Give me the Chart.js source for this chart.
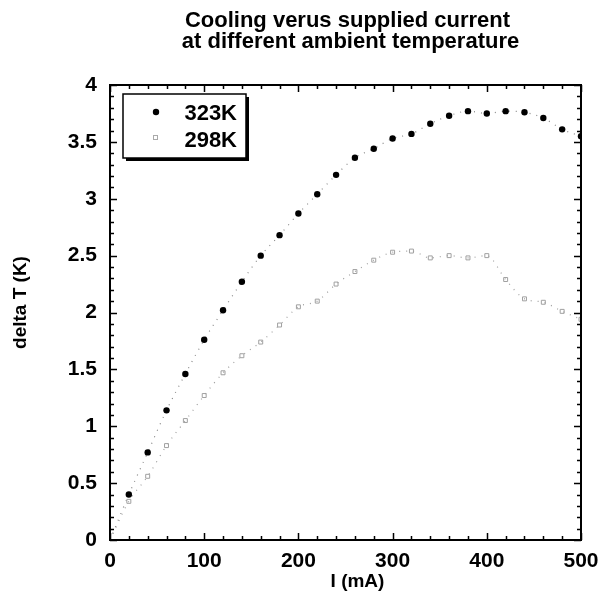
<!DOCTYPE html>
<html lang="en">
<head>
<meta charset="UTF-8">
<title>Cooling verus supplied current</title>
<script src="https://cdn.jsdelivr.net/npm/chart.js"></script>
<style>
    html, body { margin: 0; padding: 0; background: #fff; }
    #wrap { width: 601px; height: 600px; }
</style>
</head>
<body>
<div id="wrap"><canvas id="chart" width="601" height="600"></canvas></div>
<script>
// data
const current = [20, 40, 60, 80, 100, 120, 140, 160, 180, 200, 220, 240, 260, 280, 300, 320, 340, 360, 380, 400, 420, 440, 460, 480, 500];
const dT323 = [0.40, 0.77, 1.14, 1.46, 1.76, 2.02, 2.27, 2.50, 2.68, 2.87, 3.04, 3.21, 3.36, 3.44, 3.53, 3.57, 3.66, 3.73, 3.77, 3.75, 3.77, 3.76, 3.71, 3.61, 3.55];
const dT298 = [0.34, 0.56, 0.83, 1.05, 1.27, 1.47, 1.62, 1.74, 1.89, 2.05, 2.10, 2.25, 2.36, 2.46, 2.53, 2.54, 2.48, 2.50, 2.48, 2.50, 2.29, 2.12, 2.09, 2.01, 1.94];
const seriesNames = ["323K", "298K"];
const titleLines = ["Cooling verus supplied current", "at different ambient temperature"];
const xTitle = "I (mA)";
const yTitle = "delta T (K)";

const FONT = "'Liberation Sans', Arial, sans-serif";

function toPoints(ys) {
    return current.map((x, i) => ({x: x, y: ys[i]}));
}
// dotted trend lines start at the origin
function trend(ys) {
    return [{x: 0, y: 0}].concat(toPoints(ys));
}

// titles, frame, inward ticks on all four sides, boxed legend
const framePlugin = {
    id: "frame",
    afterDraw(chart) {
        const ctx = chart.ctx;
        const a = chart.chartArea;
        const xs = chart.scales.x, ys = chart.scales.y;
        const midX = (a.left + a.right) / 2;
        ctx.save();
        ctx.fillStyle = "#000";

        // chart title
        ctx.font = "bold 22px " + FONT;
        ctx.textAlign = "center";
        ctx.textBaseline = "alphabetic";
        ctx.fillText(titleLines[0], midX + 2, 27);
        ctx.fillText(titleLines[1], midX + 5, 48);

        // axis titles
        ctx.font = "bold 19px " + FONT;
        ctx.fillText(xTitle, midX + 12, 587);
        ctx.save();
        ctx.translate(26, (a.top + a.bottom) / 2 - 10);
        ctx.rotate(-Math.PI / 2);
        ctx.fillText(yTitle, 0, 0);
        ctx.restore();

        // ticks
        ctx.strokeStyle = "#000";
        ctx.lineWidth = 1.5;
        ctx.beginPath();
        for (let v = 0; v <= 500; v += 20) {
            const px = Math.round(xs.getPixelForValue(v)) + 0.5;
            const len = v % 100 === 0 ? 7 : 4;
            ctx.moveTo(px, a.bottom); ctx.lineTo(px, a.bottom - len);
            ctx.moveTo(px, a.top); ctx.lineTo(px, a.top + len);
        }
        for (let k = 0; k <= 40; k++) {
            const py = Math.round(ys.getPixelForValue(k / 10)) + 0.5;
            const len = k % 5 === 0 ? 7 : 4;
            ctx.moveTo(a.left, py); ctx.lineTo(a.left + len, py);
            ctx.moveTo(a.right, py); ctx.lineTo(a.right - len, py);
        }
        ctx.stroke();
        ctx.lineWidth = 2;
        ctx.strokeRect(a.left, a.top, a.right - a.left, a.bottom - a.top);

        // legend box with a drop shadow
        const bx = a.left + 13, by = a.top + 9, bw = 123, bh = 64;
        ctx.fillStyle = "#000";
        ctx.fillRect(bx + 3, by + 3, bw, bh);
        ctx.fillStyle = "#fff";
        ctx.fillRect(bx, by, bw, bh);
        ctx.lineWidth = 1.5;
        ctx.strokeRect(bx, by, bw, bh);

        ctx.fillStyle = "#000";
        ctx.beginPath();
        ctx.arc(bx + 33, by + 18, 3.2, 0, Math.PI * 2);
        ctx.fill();
        ctx.strokeStyle = "#aaa";
        ctx.lineWidth = 1;
        ctx.strokeRect(bx + 30.5, by + 41.5, 4, 4);

        ctx.fillStyle = "#000";
        ctx.font = "bold 22px " + FONT;
        ctx.textAlign = "right";
        ctx.textBaseline = "middle";
        ctx.fillText(seriesNames[0], bx + 114, by + 20);
        ctx.fillText(seriesNames[1], bx + 114, by + 47);
        ctx.restore();
    }
};

new Chart(document.getElementById("chart"), {
    type: "scatter",
    data: {
        datasets: [
            {
                label: seriesNames[0],
                data: toPoints(dT323),
                pointStyle: "circle",
                pointRadius: 3.2,
                backgroundColor: "#000",
                borderColor: "#000",
                borderWidth: 0
            },
            {
                label: seriesNames[1],
                data: toPoints(dT298),
                pointStyle: "rect",
                pointRadius: 2.8,
                backgroundColor: "rgba(255,255,255,0)",
                borderColor: "#a0a0a0",
                borderWidth: 1
            },
            {
                label: "fit 323K",
                data: trend(dT323),
                showLine: true,
                pointRadius: 0,
                borderColor: "#8a8a8a",
                borderWidth: 1.2,
                borderDash: [1, 6],
                cubicInterpolationMode: "monotone"
            },
            {
                label: "fit 298K",
                data: trend(dT298),
                showLine: true,
                pointRadius: 0,
                borderColor: "#a0a0a0",
                borderWidth: 1.2,
                borderDash: [1, 6],
                cubicInterpolationMode: "monotone"
            }
        ]
    },
    options: {
        responsive: false,
        animation: false,
        layout: { padding: { left: 0, right: 20, top: 85, bottom: 0 } },
        plugins: {
            legend: { display: false },
            tooltip: { enabled: false },
            title: { display: false }
        },
        scales: {
            x: {
                type: "linear",
                min: 0,
                max: 500,
                afterFit(scale) {
                    scale.height = 60;
                    scale.paddingLeft = 0;
                    scale.paddingRight = 0;
                },
                grid: { display: false, drawTicks: false },
                border: { display: false },
                ticks: {
                    stepSize: 100,
                    color: "#000",
                    padding: 9,
                    font: { family: FONT, size: 21, weight: "bold" }
                }
            },
            y: {
                min: 0,
                max: 4,
                afterFit(scale) {
                    scale.width = 110;
                    scale.paddingTop = 0;
                    scale.paddingBottom = 0;
                },
                grid: { display: false, drawTicks: false },
                border: { display: false },
                ticks: {
                    stepSize: 0.5,
                    color: "#000",
                    padding: 13,
                    callback: v => String(v),
                    font: { family: FONT, size: 21, weight: "bold" }
                }
            }
        }
    },
    plugins: [framePlugin]
});
</script>
</body>
</html>
